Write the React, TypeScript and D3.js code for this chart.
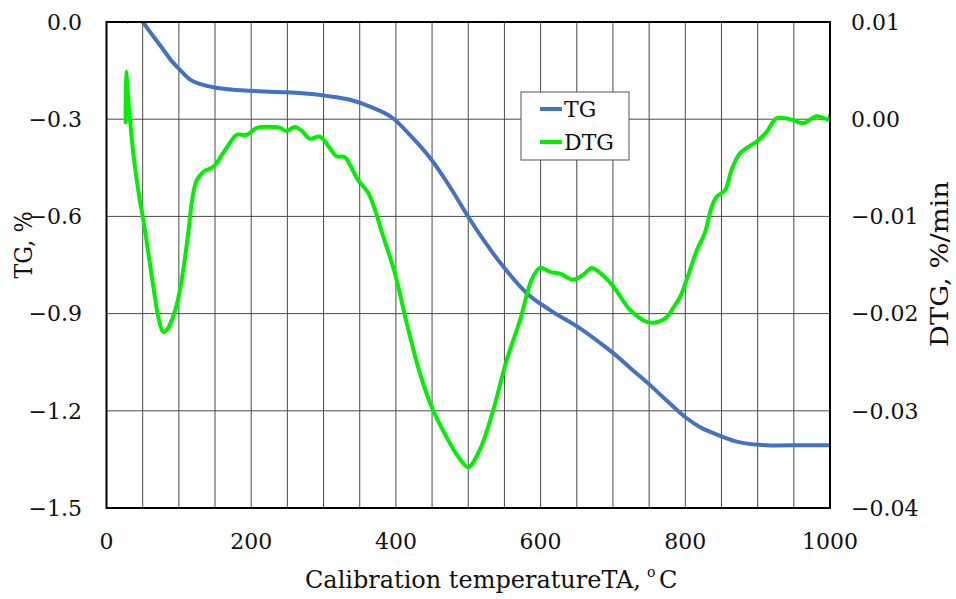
import React from "react";
import * as d3 from "d3";

const tgTemp = [27, 33, 40, 46, 50, 60, 75, 90, 101.6, 115, 130, 152, 175, 198, 225, 249, 275, 304, 336.6, 365, 396, 420, 449.5, 475, 500, 525, 548.4, 580.8, 613, 654, 682, 700.5, 725, 751, 775, 802, 820, 838.7, 871, 903, 930, 960, 1000];
const tgValues = [-0.002, 0.015, 0.02, 0.01, 0.0, -0.03, -0.075, -0.12, -0.148, -0.177, -0.192, -0.203, -0.209, -0.212, -0.215, -0.217, -0.221, -0.228, -0.24, -0.262, -0.297, -0.35, -0.426, -0.51, -0.601, -0.685, -0.755, -0.837, -0.889, -0.945, -0.99, -1.022, -1.07, -1.12, -1.17, -1.223, -1.25, -1.269, -1.295, -1.305, -1.307, -1.306, -1.306];

const dtgTemp = [26.5, 27, 30, 37, 46, 51, 64.7, 72, 78.5, 85, 92, 98, 104, 113, 118, 124.6, 134, 147.6, 161, 170, 180, 194, 207.6, 230.5, 240, 249, 260.5, 270, 281, 295, 309, 318, 329.6, 336.6, 348, 362, 382.6, 398.8, 415, 433, 449.5, 470, 486, 500, 516, 534.6, 553, 571.5, 587.7, 599, 613, 627, 645, 659, 670.6, 685, 700.5, 723.6, 749, 772, 785, 792.7, 802, 815.8, 827, 836.5, 843, 855, 864, 875.6, 898.7, 912.5, 926, 944.7, 963, 981.6, 997.6, 1000];
const dtgValues = [-0.0003, 0.0049, 0.0022, -0.0035, -0.0083, -0.0104, -0.0172, -0.0205, -0.0219, -0.0215, -0.0203, -0.0188, -0.0165, -0.0117, -0.0085, -0.0063, -0.0054, -0.0049, -0.0035, -0.0025, -0.0016, -0.0016, -0.0009, -0.0008, -0.0009, -0.0012, -0.0008, -0.0012, -0.002, -0.0018, -0.003, -0.0038, -0.0039, -0.0047, -0.0063, -0.0076, -0.0121, -0.0159, -0.021, -0.0261, -0.0296, -0.0327, -0.0347, -0.0358, -0.034, -0.0299, -0.0248, -0.0207, -0.0165, -0.0153, -0.0157, -0.0159, -0.0165, -0.016, -0.0153, -0.016, -0.0172, -0.0196, -0.0209, -0.0205, -0.0192, -0.0183, -0.0165, -0.0135, -0.0117, -0.009, -0.008, -0.0073, -0.0052, -0.0035, -0.0023, -0.0013, 0.0001, 0.0, -0.0004, 0.0003, 0.0, 0.0004];

const xTicks = [0, 200, 400, 600, 800, 1000];
const xGrid = d3.range(0, 1001, 50);
const tgTicks = [0.0, -0.3, -0.6, -0.9, -1.2, -1.5];
const dtgTicks = [0.01, 0.0, -0.01, -0.02, -0.03, -0.04];

const W = 956, H = 599;
const L = 106.5, R = 830, T = 22, B = 508;

export default function App() {
  const x = d3.scaleLinear().domain([0, 1000]).range([L, R]);
  const yTG = d3.scaleLinear().domain([-1.5, 0]).range([B, T]);
  const yDTG = d3.scaleLinear().domain([-0.04, 0.01]).range([B, T]);

  const tgLine = d3.line<number>()
    .x((_, i) => x(tgTemp[i]))
    .y((d) => yTG(d))
    .curve(d3.curveMonotoneX);
  const dtgLine = d3.line<number>()
    .x((_, i) => x(dtgTemp[i]))
    .y((d) => yDTG(d))
    .curve(d3.curveCatmullRom.alpha(0.5));

  const font = "'DejaVu Serif', serif";
  const fmtNeg = (s: string) => s.replace("-", "\u2212");

  return (
    <svg width={W} height={H} style={{ position: "absolute", left: 0, top: 0, background: "#fff" }}>
      <defs>
        <clipPath id="plotclip">
          <rect x={L} y={T} width={R - L} height={B - T} />
        </clipPath>
      </defs>
      <rect x={0} y={0} width={W} height={H} fill="#fff" />
      {xGrid.map((t) => (
        <line key={"vx" + t} x1={x(t)} x2={x(t)} y1={T} y2={B} stroke="#4a4a4a" strokeWidth={1} />
      ))}
      {tgTicks.map((t) => (
        <line key={"hy" + t} x1={L} x2={R} y1={yTG(t)} y2={yTG(t)} stroke="#4a4a4a" strokeWidth={1} />
      ))}
      <g clipPath="url(#plotclip)">
        <path d={tgLine(tgValues) || ""} fill="none" stroke="#4472C4" strokeWidth={4} strokeLinejoin="round" />
        <path d={dtgLine(dtgValues) || ""} fill="none" stroke="#00F000" strokeWidth={4} strokeLinejoin="round" strokeLinecap="round" />
      </g>
      <rect x={L} y={T} width={R - L} height={B - T} fill="none" stroke="#000" strokeWidth={2} />

      {tgTicks.map((t) => (
        <text key={"lt" + t} x={82} y={yTG(t)} dy="0.35em" textAnchor="end" fontFamily={font} fontSize={22} fill="#111">
          {fmtNeg(d3.format(".1f")(t))}
        </text>
      ))}
      {dtgTicks.map((t) => (
        <text key={"rt" + t} x={851} y={yDTG(t)} dy="0.35em" textAnchor="start" fontFamily={font} fontSize={22} fill="#111">
          {fmtNeg(d3.format(".2f")(t))}
        </text>
      ))}
      {xTicks.map((t) => (
        <text key={"xt" + t} x={x(t)} y={541} dy="0.35em" textAnchor="middle" fontFamily={font} fontSize={22} fill="#111">
          {t}
        </text>
      ))}
      <text x={305} y={588} textAnchor="start" fontFamily={font} fontSize={24} fill="#111" textLength={336} lengthAdjust="spacingAndGlyphs">
        Calibration temperatureTA,
      </text>
      <text x={647} y={577} textAnchor="start" fontFamily={font} fontSize={14} fill="#111">o</text>
      <text x={659} y={588} textAnchor="start" fontFamily={font} fontSize={24} fill="#111">C</text>
      <text transform={`translate(24,245) rotate(-90)`} textAnchor="middle" dy="0.35em" fontFamily={font} fontSize={24} fill="#111" textLength={67} lengthAdjust="spacingAndGlyphs">
        TG, %
      </text>
      <text transform={`translate(940,264) rotate(-90)`} textAnchor="middle" dy="0.35em" fontFamily={font} fontSize={24} fill="#111" textLength={166} lengthAdjust="spacingAndGlyphs">
        DTG, %/min
      </text>

      <rect x={521} y={92} width={108} height={68} fill="#fff" stroke="#555" strokeWidth={1} />
      <line x1={540} x2={562} y1={109} y2={109} stroke="#4472C4" strokeWidth={4} />
      <text x={564} y={109} dy="0.35em" fontFamily={font} fontSize={22} fill="#111">TG</text>
      <line x1={540} x2={562} y1={142} y2={142} stroke="#00F000" strokeWidth={4} />
      <text x={564} y={142} dy="0.35em" fontFamily={font} fontSize={22} fill="#111">DTG</text>
    </svg>
  );
}
